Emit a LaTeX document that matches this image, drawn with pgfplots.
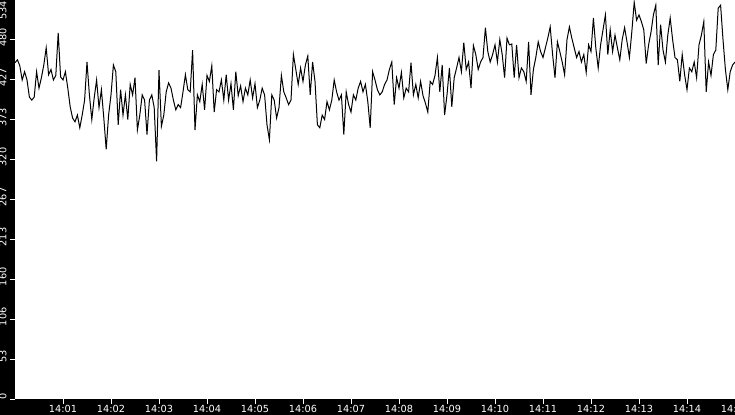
\documentclass[border=0pt]{standalone}
\usepackage{pgfplots}
\pgfplotsset{compat=1.18}
\usepackage{pgfplotstable}
\usepackage{fontspec}
\setmainfont{DejaVu Sans}

% minutes after 14:00, value
\pgfplotstableread{
t v
0.00 450
0.05 454
0.10 446
0.15 427
0.20 438
0.25 427
0.30 404
0.35 400
0.40 404
0.45 438
0.50 416
0.55 430
0.60 447
0.65 470
0.70 434
0.75 441
0.80 427
0.85 433
0.90 490
0.95 431
1.00 427
1.05 438
1.10 416
1.15 391
1.20 376
1.25 371
1.30 380
1.35 363
1.40 380
1.45 400
1.50 451
1.55 407
1.60 374
1.65 403
1.70 427
1.75 390
1.80 414
1.85 376
1.90 334
1.95 380
2.00 407
2.05 447
2.10 438
2.15 367
2.20 414
2.25 380
2.30 407
2.35 374
2.40 421
2.45 407
2.50 430
2.55 360
2.60 380
2.65 407
2.70 400
2.75 354
2.80 400
2.85 407
2.90 390
2.95 318
3.00 440
3.05 365
3.10 380
3.15 411
3.20 423
3.25 416
3.30 400
3.35 387
3.40 394
3.45 390
3.50 411
3.55 434
3.60 414
3.65 411
3.70 467
3.75 360
3.80 407
3.85 398
3.90 421
3.95 387
4.00 433
4.05 425
4.10 446
4.15 384
4.20 414
4.25 411
4.30 427
4.35 400
4.40 434
4.45 400
4.50 422
4.55 387
4.60 438
4.65 406
4.70 419
4.75 398
4.80 416
4.85 407
4.90 427
4.95 403
5.00 422
5.05 390
5.10 400
5.15 416
5.20 407
5.25 367
5.30 347
5.35 407
5.40 400
5.45 376
5.50 390
5.55 433
5.60 411
5.65 403
5.70 394
5.75 400
5.80 461
5.85 441
5.90 421
5.95 443
6.00 425
6.05 447
6.10 459
6.15 407
6.20 451
6.25 425
6.30 367
6.35 363
6.40 380
6.45 374
6.50 398
6.55 387
6.60 400
6.65 427
6.70 411
6.75 400
6.80 407
6.85 354
6.90 411
6.95 394
7.00 384
7.05 407
7.10 400
7.15 416
7.20 425
7.25 411
7.30 421
7.35 398
7.40 363
7.45 438
7.50 427
7.55 414
7.60 407
7.65 411
7.70 421
7.75 427
7.80 441
7.85 451
7.90 394
7.95 430
8.00 416
8.05 437
8.10 403
8.15 416
8.20 411
8.25 450
8.30 407
8.35 421
8.40 403
8.45 425
8.50 406
8.55 396
8.60 384
8.65 425
8.70 421
8.75 433
8.80 457
8.85 411
8.90 447
8.95 380
9.00 407
9.05 443
9.10 391
9.15 430
9.20 443
9.25 457
9.30 438
9.35 477
9.40 441
9.45 451
9.50 416
9.55 473
9.60 461
9.65 441
9.70 451
9.75 457
9.80 497
9.85 465
9.90 451
9.95 461
10.00 474
10.05 451
10.10 481
10.15 461
10.20 430
10.25 483
10.30 474
10.35 475
10.40 430
10.45 474
10.50 430
10.55 443
10.60 438
10.65 425
10.70 478
10.75 407
10.80 441
10.85 457
10.90 478
10.95 465
11.00 457
11.05 470
11.10 483
11.15 498
11.20 461
11.25 430
11.30 478
11.35 465
11.40 451
11.45 434
11.50 481
11.55 498
11.60 483
11.65 470
11.70 457
11.75 465
11.80 451
11.85 461
11.90 437
11.95 474
12.00 465
12.05 510
12.10 470
12.15 443
12.20 474
12.25 494
12.30 514
12.35 461
12.40 494
12.45 465
12.50 487
12.55 470
12.60 454
12.65 481
12.70 497
12.75 478
12.80 457
12.85 491
12.90 531
12.95 507
13.00 514
13.05 505
13.10 494
13.15 449
13.20 474
13.25 491
13.30 514
13.35 527
13.40 447
13.45 501
13.50 467
13.55 451
13.60 487
13.65 510
13.70 481
13.75 457
13.80 454
13.85 425
13.90 461
13.95 434
14.00 414
14.05 443
14.10 438
14.15 451
14.20 430
14.25 474
14.30 487
14.35 505
14.40 411
14.45 451
14.50 433
14.55 461
14.60 467
14.65 523
14.70 527
14.75 481
14.80 441
14.85 414
14.90 438
14.95 447
15.00 451
}\loadtable

\begin{document}
\begin{tikzpicture}
\path[use as bounding box] (0,0) rectangle (735bp,415bp);
\fill[black] (0,0) rectangle (735bp,415bp);
\begin{scope}
\clip (0,0) rectangle (735bp,415bp);
\begin{axis}[
    at={(15bp,16bp)}, anchor=south west,
    scale only axis,
    width=720bp, height=399bp,
    xmin=0, xmax=15, ymin=0, ymax=534,
    axis line style={draw=none},
    axis background/.style={fill=white},
    tick align=outside,
    xtick pos=bottom, ytick pos=left,
    major tick length=5bp,
    tick style={white, line width=1bp},
    xtick={1,...,15},
    xticklabels={14:01,14:02,14:03,14:04,14:05,14:06,14:07,14:08,14:09,14:10,14:11,14:12,14:13,14:14,14:15},
    ytick={0,53.4,106.8,160.2,213.6,267,320.4,373.8,427.2,480.6},
    yticklabels={0,53,106,160,213,267,320,373,427,480},
    extra y ticks={534},
    extra y tick labels={534},
    extra y tick style={yticklabel style={anchor=south east}},
    ticklabel style={white, font=\fontsize{9.8}{11}\selectfont},
    xticklabel style={yshift=2.5bp},
    yticklabel style={rotate=90, anchor=south, xshift=2.5bp},
]
\addplot[black, line width=1bp] table[x=t, y=v] {\loadtable};
\end{axis}
\end{scope}
\end{tikzpicture}
\end{document}
